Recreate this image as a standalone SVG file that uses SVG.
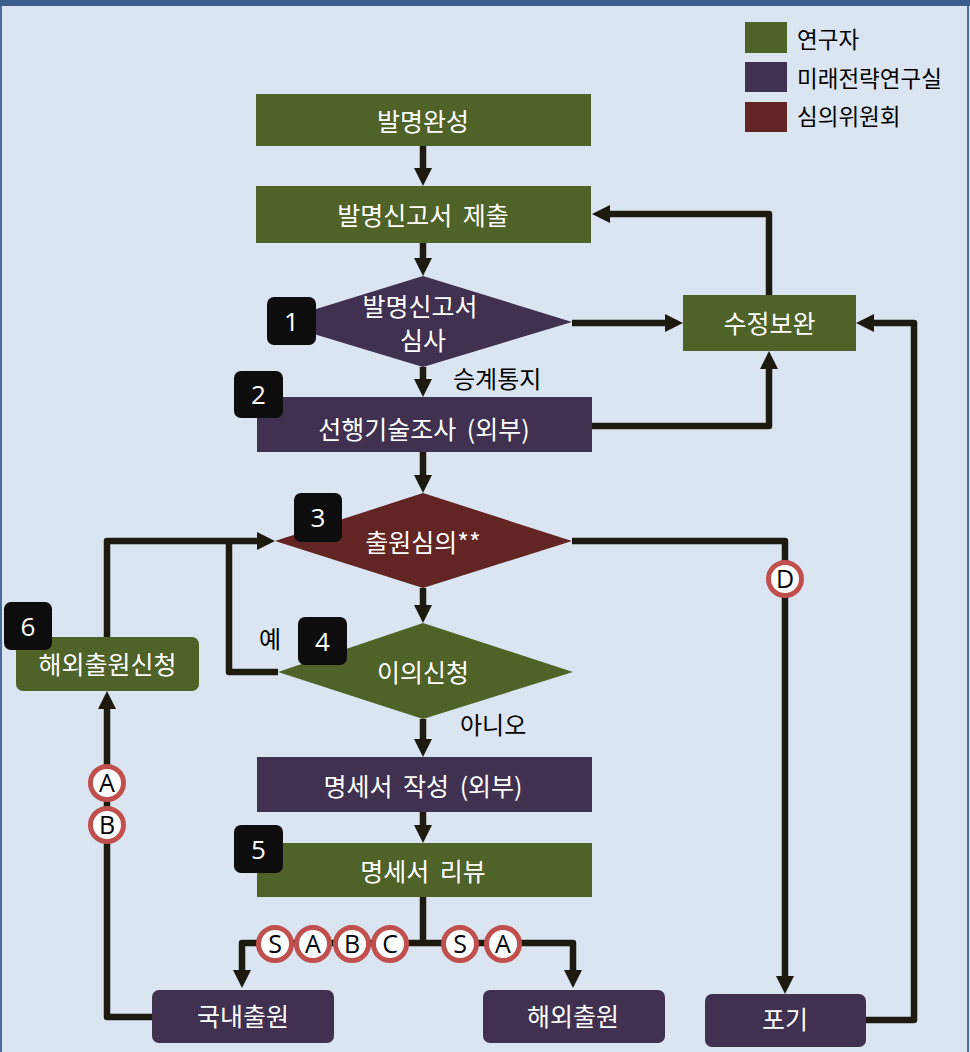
<svg xmlns="http://www.w3.org/2000/svg" width="970" height="1052" viewBox="0 0 970 1052">
<style>
.nt{font-family:"Noto Sans CJK KR","Noto Sans",sans-serif;font-size:25px;fill:#ffffff;text-anchor:middle;word-spacing:5px;}
.lb{font-family:"Noto Sans CJK KR","Noto Sans",sans-serif;font-size:24px;fill:#000000;}
.lg{font-family:"Noto Sans CJK KR","Noto Sans",sans-serif;font-size:22.5px;fill:#000000;}
.g{fill:#4f6228;}
.p{fill:#403151;}
.r{fill:#632523;}
.bd{fill:#0d0d0d;}
.bn{font-family:"Open Sans","Noto Sans",sans-serif;font-size:26px;fill:#ffffff;text-anchor:middle;}
.c{fill:none;stroke:#1d1b10;stroke-width:6.5;stroke-linejoin:round;}
.ca{marker-end:url(#ah);}
.ring{fill:#ffffff;stroke:#c0504d;stroke-width:5;}
.rt{font-family:"Open Sans","Noto Sans",sans-serif;font-size:25px;fill:#000000;text-anchor:middle;}
</style>
<defs>
<marker id="ah" markerUnits="userSpaceOnUse" markerWidth="18" markerHeight="18" viewBox="0 0 18 18" refX="8" refY="9" orient="auto">
<path d="M0,0 L18,9 L0,18 z" fill="#1d1b10"/>
</marker>
</defs>
<rect x="0" y="0" width="970" height="1052" fill="#dbe5f1"/>
<rect x="1" y="3" width="967" height="1052" fill="none" stroke="#4a6d9c" stroke-width="2"/>
<rect x="0" y="0" width="970" height="6" fill="#3b5e8c"/>

<g id="legend">
<rect x="745" y="22" width="42" height="31" class="g"/>
<text x="797" y="47.5" class="lg">연구자</text>
<rect x="745" y="62" width="42" height="30" class="p"/>
<text x="797" y="87" class="lg">미래전략연구실</text>
<rect x="745" y="102" width="42" height="30" class="r"/>
<text x="797" y="125" class="lg">심의위원회</text>
</g>

<g id="connectors">
<path class="c ca" d="M423,146 V176"/>
<path class="c ca" d="M423,243 V266"/>
<path class="c ca" d="M423,367 V387"/>
<path class="c ca" d="M423,452 V483"/>
<path class="c ca" d="M423,588 V613"/>
<path class="c ca" d="M423,719 V747"/>
<path class="c ca" d="M423,812 V833"/>
<path class="c" d="M423,897 V943"/>
<path class="c ca" d="M423,943 H242 V978"/>
<path class="c ca" d="M423,943 H573 V978"/>
<path class="c ca" d="M572,323 H673"/>
<path class="c ca" d="M769,295 V214 H602"/>
<path class="c ca" d="M592,426 H769 V361"/>
<path class="c ca" d="M866,1020 H914 V323 H866"/>
<path class="c ca" d="M572,541 H785 V984"/>
<path class="c ca" d="M152,1017 H107 V701"/>
<path class="c ca" d="M107,637 V541 H265"/>
<path class="c" d="M278,672 H229 V541"/>
</g>

<g id="connector-labels">
<circle cx="107" cy="783" r="16.5" class="ring"/><text x="107" y="792" class="rt">A</text>
<circle cx="107" cy="825" r="16.5" class="ring"/><text x="107" y="834" class="rt">B</text>
<circle cx="785" cy="579" r="16.5" class="ring"/><text x="785" y="588" class="rt">D</text>
<circle cx="275" cy="944" r="16.5" class="ring"/><text x="275" y="953" class="rt">S</text>
<circle cx="313" cy="944" r="16.5" class="ring"/><text x="313" y="953" class="rt">A</text>
<circle cx="352" cy="944" r="16.5" class="ring"/><text x="352" y="953" class="rt">B</text>
<circle cx="390" cy="944" r="16.5" class="ring"/><text x="390" y="953" class="rt">C</text>
<circle cx="460" cy="944" r="16.5" class="ring"/><text x="460" y="953" class="rt">S</text>
<circle cx="503" cy="944" r="16.5" class="ring"/><text x="503" y="953" class="rt">A</text>
<text x="453" y="388" class="lb">승계통지</text>
<text x="259" y="648" class="lb">예</text>
<text x="460" y="734" class="lb">아니오</text>
</g>

<g id="n-invention">
<rect x="256" y="94" width="335" height="52" class="g"/>
<text x="423" y="130.5" class="nt">발명완성</text>
</g>
<g id="n-submit">
<rect x="256" y="186" width="335" height="57" class="g"/>
<text x="423" y="225" class="nt">발명신고서 제출</text>
</g>
<g id="n-review1">
<polygon points="423,276 572,322 423,367 274,322" class="p"/>
<text x="420" y="316" class="nt">발명신고서</text>
<text x="423" y="350" class="nt">심사</text>
<rect x="267" y="297" width="49" height="48" rx="7" class="bd"/>
<text x="291.5" y="330.5" class="bn">1</text>
</g>
<g id="n-prior">
<rect x="257" y="397" width="335" height="55" class="p"/>
<text x="424" y="438.5" class="nt">선행기술조사 (외부)</text>
<rect x="234" y="371" width="49" height="47" rx="7" class="bd"/>
<text x="258.5" y="404" class="bn">2</text>
</g>
<g id="n-revise">
<rect x="683" y="295" width="173" height="56" class="g"/>
<text x="769.5" y="333" class="nt">수정보완</text>
</g>
<g id="n-filing-review">
<polygon points="423,493 572,541 423,588 275,541" class="r"/>
<text x="423" y="552" class="nt">출원심의**</text>
<rect x="294" y="493" width="48" height="49" rx="7" class="bd"/>
<text x="318" y="527" class="bn">3</text>
</g>
<g id="n-objection">
<polygon points="423,623 573,672 423,719 278,672" class="g"/>
<text x="423" y="682" class="nt">이의신청</text>
<rect x="298" y="617" width="49" height="48" rx="7" class="bd"/>
<text x="322.5" y="650.5" class="bn">4</text>
</g>
<g id="n-spec-write">
<rect x="257" y="757" width="335" height="55" class="p"/>
<text x="423" y="796" class="nt">명세서 작성 (외부)</text>
</g>
<g id="n-spec-review">
<rect x="257" y="843" width="335" height="54" class="g"/>
<text x="423" y="881" class="nt">명세서 리뷰</text>
<rect x="234" y="825" width="49" height="48" rx="7" class="bd"/>
<text x="258.5" y="858.5" class="bn">5</text>
</g>
<g id="n-foreign-request">
<rect x="16" y="637" width="183" height="54" rx="7" class="g"/>
<text x="107.5" y="674" class="nt">해외출원신청</text>
<rect x="4" y="602" width="48" height="48" rx="7" class="bd"/>
<text x="28" y="635.5" class="bn">6</text>
</g>
<g id="n-domestic">
<rect x="152" y="990" width="182" height="53" rx="7" class="p"/>
<text x="243" y="1026" class="nt">국내출원</text>
</g>
<g id="n-foreign">
<rect x="483" y="990" width="182" height="53" rx="7" class="p"/>
<text x="573" y="1026" class="nt">해외출원</text>
</g>
<g id="n-abandon">
<rect x="705" y="994" width="161" height="53" rx="7" class="p"/>
<text x="785" y="1029" class="nt">포기</text>
</g>
</svg>
